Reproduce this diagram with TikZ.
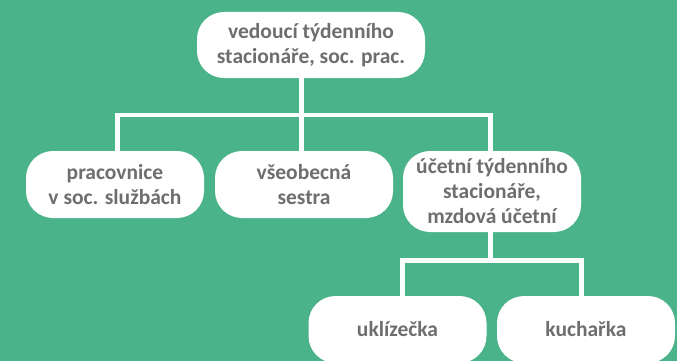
\documentclass[tikz,border=0pt]{standalone}
\usepackage{fontspec}
\setmainfont{Carlito}
\definecolor{bggreen}{HTML}{4BB389}
\definecolor{txtgray}{HTML}{6E6E6E}
\tikzset{
  orgbox/.style={draw=none, fill=white, rounded corners=27pt, align=center,
    text=txtgray, font=\bfseries\fontsize{21.5}{25}\selectfont,
    inner sep=0pt, minimum width=178pt, minimum height=67pt},
  link/.style={draw=white, line width=4.8pt, line join=miter}
}
\begin{document}
\begin{tikzpicture}[x=1pt,y=-1pt]
\fill[bggreen] (0,0) rectangle (677,361);
\useasboundingbox (0,0) rectangle (677,361);
% nodes
\node[orgbox, minimum width=228pt, minimum height=66pt] (top) at (311,45) {vedoucí týdenního\\stacionáře, soc. prac.};
\node[orgbox] (b1) at (115,184.5) {pracovnice\\v soc. službách};
\node[orgbox] (b2) at (304,184.5) {všeobecná\\sestra};
\node[orgbox, minimum height=81pt] (b3) at (492,191.5) {účetní týdenního\\stacionáře,\\mzdová účetní};
\node[orgbox] (b4) at (397.5,329.5) {uklízečka};
\node[orgbox] (b5) at (586,329.5) {kuchařka};
% junctions
\coordinate (j1) at (301.5,115);
\coordinate (j1L) at (117.5,115);
\coordinate (j1R) at (490.5,115);
\coordinate (j2) at (490.5,260.5);
\coordinate (j2L) at (402.5,260.5);
\coordinate (j2R) at (581.5,260.5);
% connectors
\draw[link] (top.south -| j1) -- (j1) -- (j1 |- b2.north);
\draw[link] (b1.north -| j1L) -- (j1L) -- (j1R) -- (b3.north -| j1R);
\draw[link] (b3.south -| j2) -- (j2);
\draw[link] (b4.north -| j2L) -- (j2L) -- (j2R) -- (b5.north -| j2R);
\end{tikzpicture}
\end{document}
